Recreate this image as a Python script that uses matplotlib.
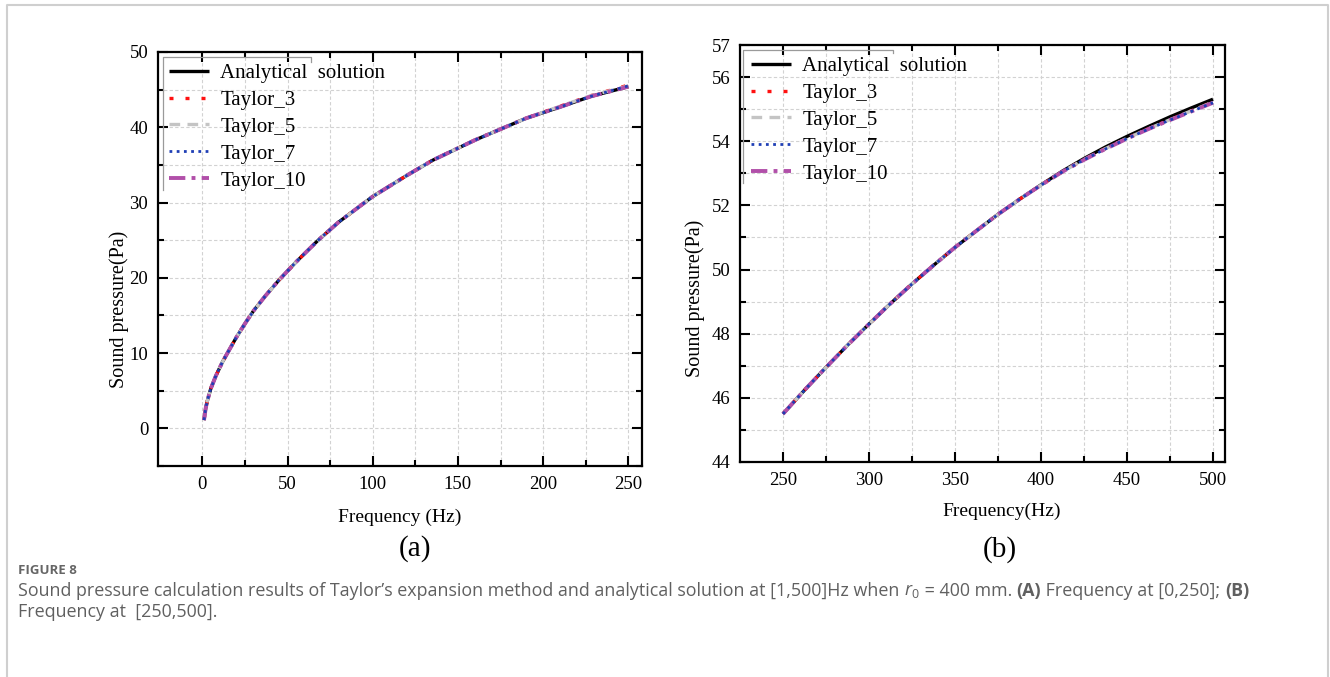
import numpy as np
import matplotlib
matplotlib.use("Agg")
import matplotlib.pyplot as plt
from matplotlib.lines import Line2D

plt.rcParams['font.family'] = ['Liberation Serif', 'DejaVu Serif']
plt.rcParams['mathtext.fontset'] = 'custom'
plt.rcParams['mathtext.it'] = 'Open Sans:italic'
plt.rcParams['mathtext.rm'] = 'Open Sans'

# ---- data ----
freq_a = [1, 2, 3, 5, 8, 12, 16, 20, 25, 30, 37, 45, 55, 68, 80, 100, 120, 135,
          160, 190, 210, 228, 250]
analytic_a = [1.1, 2.7, 3.7, 5.3, 7.0, 8.9, 10.5, 12.1, 13.9, 15.6, 17.6, 19.7,
              22.1, 25.0, 27.4, 30.8, 33.6, 35.6, 38.3, 41.2, 42.7, 44.1, 45.4]
taylor3_a = [1.1, 2.7, 3.7, 5.3, 7.0, 8.9, 10.5, 12.1, 13.9, 15.6, 17.6, 19.7,
             22.1, 25.0, 27.4, 30.8, 33.6, 35.6, 38.3, 41.2, 42.8, 44.2, 45.6]
taylor5_a = [1.1, 2.7, 3.7, 5.3, 7.0, 8.9, 10.5, 12.1, 13.9, 15.6, 17.6, 19.7,
             22.1, 25.0, 27.4, 30.8, 33.6, 35.6, 38.3, 41.2, 42.8, 44.2, 45.5]
taylor7_a = [1.1, 2.7, 3.7, 5.3, 7.0, 8.9, 10.5, 12.1, 13.9, 15.6, 17.6, 19.7,
             22.1, 25.0, 27.4, 30.8, 33.6, 35.6, 38.3, 41.2, 42.7, 44.1, 45.5]
taylor10_a = [1.1, 2.7, 3.7, 5.3, 7.0, 8.9, 10.5, 12.1, 13.9, 15.6, 17.6, 19.7,
              22.1, 25.0, 27.4, 30.8, 33.6, 35.6, 38.3, 41.2, 42.7, 44.1, 45.4]

freq_b = [250, 262.5, 275, 287.5, 300, 312.5, 325, 337.5, 350, 362.5, 375,
          387.5, 400, 412.5, 425, 437.5, 450, 462.5, 475, 487.5, 500]
analytic_b = [45.50, 46.24, 46.95, 47.64, 48.30, 48.94, 49.55, 50.13, 50.69,
              51.21, 51.72, 52.19, 52.64, 53.07, 53.46, 53.82, 54.15, 54.46,
              54.76, 55.04, 55.31]
taylor3_b = [45.50, 46.24, 46.95, 47.64, 48.30, 48.94, 49.55, 50.13, 50.69,
             51.21, 51.72, 52.19, 52.63, 53.05, 53.43, 53.77, 54.09, 54.39,
             54.67, 54.95, 55.22]
taylor5_b = [45.50, 46.24, 46.95, 47.64, 48.30, 48.94, 49.55, 50.13, 50.69,
             51.21, 51.72, 52.19, 52.63, 53.05, 53.43, 53.77, 54.09, 54.39,
             54.67, 54.95, 55.22]
taylor7_b = [45.50, 46.24, 46.95, 47.64, 48.30, 48.94, 49.55, 50.13, 50.69,
             51.21, 51.72, 52.19, 52.63, 53.05, 53.42, 53.76, 54.08, 54.38,
             54.66, 54.93, 55.20]
taylor10_b = [45.50, 46.24, 46.95, 47.64, 48.30, 48.94, 49.55, 50.13, 50.69,
              51.21, 51.72, 52.19, 52.63, 53.05, 53.42, 53.76, 54.08, 54.38,
              54.66, 54.93, 55.20]

labels = ['Analytical  solution', 'Taylor_3', 'Taylor_5', 'Taylor_7', 'Taylor_10']

fig = plt.figure(figsize=(13.3, 6.77), dpi=100)
W, H = 1330, 677


def px_axes(l, t, r, b):
    return fig.add_axes([l / W, 1 - b / H, (r - l) / W, (b - t) / H])


def draw(ax, x, series):
    a, t3, t5, t7, t10 = series
    h0, = ax.plot(x, a, color='black', lw=2.4, solid_capstyle='butt')
    h3, = ax.plot(x, t3, color='#ff1010', lw=2.4, dashes=(1.2, 3.6))
    h5, = ax.plot(x, t5, color='#c4c4c4', lw=2.4, dashes=(3.2, 2.2))
    h10, = ax.plot(x, t10, color='#b14fa9', lw=2.8, dashes=(4.2, 1.6, 1.0, 1.6))
    h7, = ax.plot(x, t7, color='#1f3fb5', lw=2.0, dashes=(1.0, 1.6))
    leg = ax.legend([h0, h3, h5, h7, h10], labels, loc='upper left',
                    bbox_to_anchor=(0.0, 1.0), frameon=False,
                    prop={'family': 'Liberation Serif', 'size': 15},
                    handlelength=1.9, handletextpad=0.55, labelspacing=0.35,
                    borderaxespad=0.3, borderpad=0.25)
    return leg


def style(ax):
    for s in ax.spines.values():
        s.set_linewidth(1.6)
    ax.tick_params(which='both', direction='in', top=True, right=True,
                   labelsize=13.5, width=1.5, pad=7)
    ax.tick_params(which='major', length=7)
    ax.tick_params(which='minor', length=4.5)
    ax.grid(True, which='both', color='#d2d2d2', lw=0.8, ls=(0, (3, 2)))
    ax.set_axisbelow(True)


# ---- panel (a) ----
ax1 = px_axes(158, 52, 642, 466)
draw(ax1, freq_a, [analytic_a, taylor3_a, taylor5_a, taylor7_a, taylor10_a])
ax1.set_xlim(-26, 258)
ax1.set_ylim(-5, 50)
ax1.set_xticks(np.arange(0, 251, 50))
ax1.set_xticks(np.arange(25, 251, 50), minor=True)
ax1.set_yticks(np.arange(0, 51, 10))
ax1.set_yticks(np.arange(-5, 50, 10), minor=True)
style(ax1)
ax1.set_xlabel('Frequency (Hz)', fontsize=14)
ax1.set_ylabel('Sound pressure(Pa)', fontsize=14.5)
ax1.xaxis.set_label_coords(0.5, -0.102)
ax1.yaxis.set_label_coords(-0.060, 0.379)
ax1.text(0.531, -0.2, '(a)', transform=ax1.transAxes, ha='center', va='center',
         fontsize=21)
ax1.add_line(Line2D([0.0103, 0.0103, 0.316, 0.316], [0.667, 0.988, 0.988, 0.976],
                    transform=ax1.transAxes, color='#9a9a9a', lw=0.9, clip_on=False))

# ---- panel (b) ----
ax2 = px_axes(740, 45, 1225, 462)
draw(ax2, freq_b, [analytic_b, taylor3_b, taylor5_b, taylor7_b, taylor10_b])
ax2.set_xlim(225, 507)
ax2.set_ylim(44, 57)
ax2.set_xticks(np.arange(250, 501, 50))
ax2.set_xticks(np.arange(275, 501, 50), minor=True)
ax2.set_yticks([44, 46, 48, 50, 52, 54, 56, 57])
ax2.set_yticks(np.arange(45, 56, 2), minor=True)
style(ax2)
ax2.set_xlabel('Frequency(Hz)', fontsize=14)
ax2.set_ylabel('Sound pressure(Pa)', fontsize=14.5)
ax2.xaxis.set_label_coords(0.54, -0.097)
ax2.yaxis.set_label_coords(-0.072, 0.393)
ax2.text(0.536, -0.209, '(b)', transform=ax2.transAxes, ha='center', va='center',
         fontsize=21)
ax2.add_line(Line2D([0.0068, 0.0068, 0.316, 0.316], [0.669, 0.988, 0.988, 0.981],
                    transform=ax2.transAxes, color='#9a9a9a', lw=0.9, clip_on=False))

# ---- outer frame ----
fig.add_artist(Line2D([6.5 / W, 6.5 / W, 1327.5 / W, 1327.5 / W],
                      [0, 1 - 4.5 / H, 1 - 4.5 / H, 0],
                      transform=fig.transFigure, color='#cfcfcf', lw=1.5))

# ---- caption ----
renderer = fig.canvas.get_renderer()
cap_color = '#606060'
sans = ['Open Sans', 'DejaVu Sans']


def put_pieces(x0, y, pieces, size=12.9):
    x = x0
    for txt, weight in pieces:
        t = fig.text(x / W, 1 - y / H, txt, fontsize=size, family=sans,
                     weight=weight, color=cap_color, va='center', ha='left')
        bb = t.get_window_extent(renderer)
        x += bb.width


fig.text(18 / W, 1 - 571 / H, 'FIGURE 8', fontsize=9.5, family=sans,
         weight='bold', color='#666666', va='center', ha='left')
put_pieces(18, 591, [
    ('Sound pressure calculation results of Taylor\u2019s expansion method and '
     'analytical solution at [1,500]Hz when ', 'normal'),
    ('$r_0$', 'normal'),
    (' = 400 mm. ', 'normal'),
    ('(A)', 'bold'),
    (' Frequency at [0,250]; ', 'normal'),
    ('(B)', 'bold'),
])
put_pieces(18, 612, [('Frequency at  [250,500].', 'normal')])

fig.savefig('out.png', dpi=100)
